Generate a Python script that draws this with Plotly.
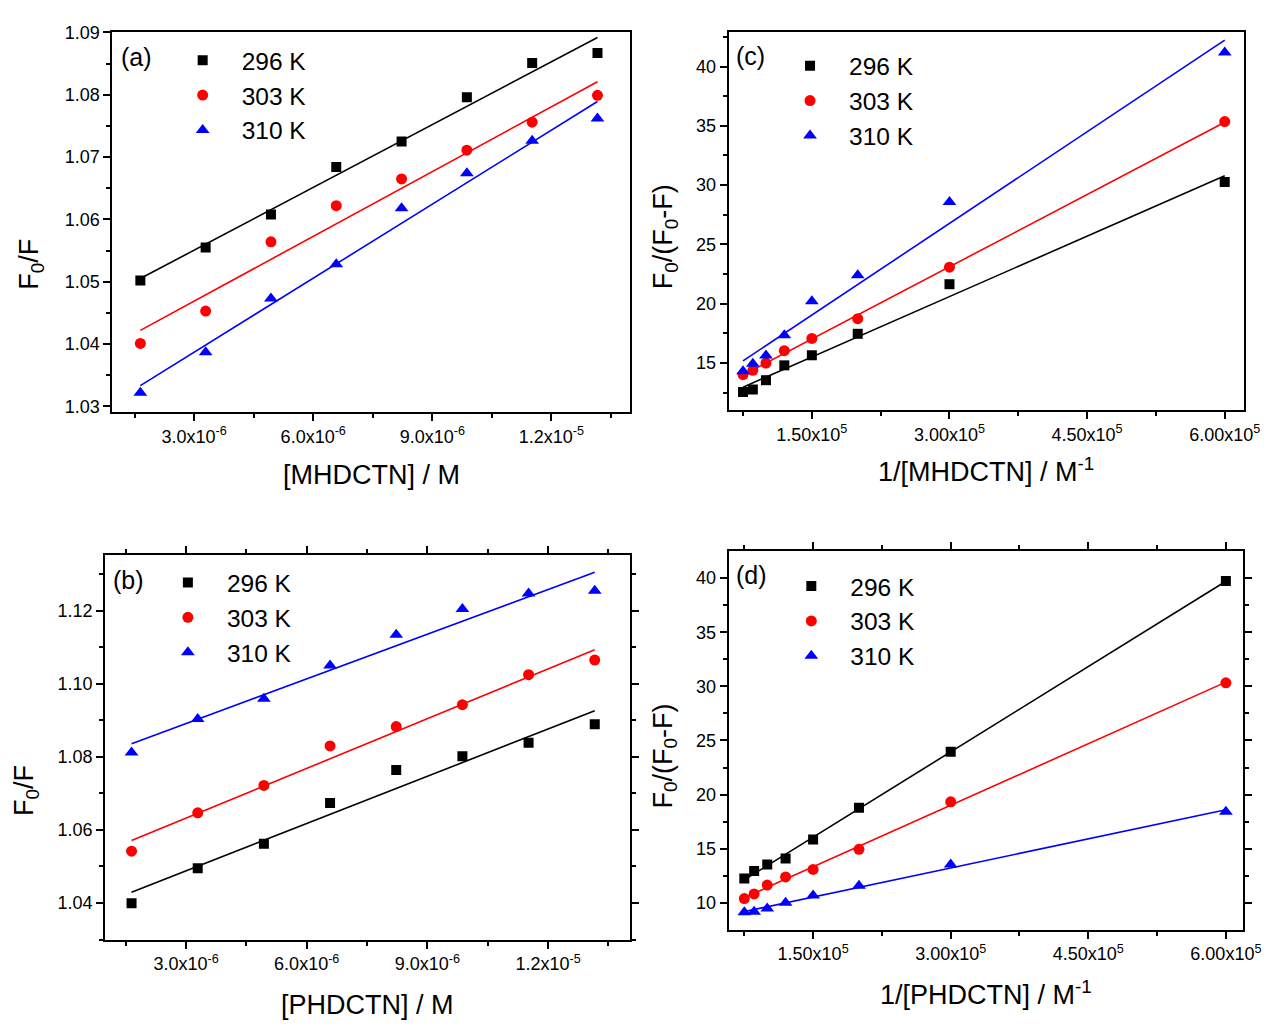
import numpy as np
import plotly.graph_objects as go

W, H = 1283, 1028

temps = ["296 K", "303 K", "310 K"]
colors = ["#000000", "#ff0000", "#0000ff"]
symbols = ["square", "circle", "triangle-up"]
msizes = [10, 11, 12]

# Panel (a): F0/F vs [MHDCTN]
conc_a = [1.645e-6, 3.29e-6, 4.935e-6, 6.58e-6, 8.225e-6, 9.87e-6, 11.515e-6, 13.16e-6]
a_296 = [1.0502, 1.0555, 1.0608, 1.0684, 1.0725, 1.0796, 1.0851, 1.0867]
a_303 = [1.0401, 1.0453, 1.0564, 1.0622, 1.0665, 1.0711, 1.0756, 1.0799]
a_310 = [1.0322, 1.0387, 1.0473, 1.0528, 1.0618, 1.0674, 1.0726, 1.0762]

# Panel (b): F0/F vs [PHDCTN]
conc_b = [1.645e-6, 3.29e-6, 4.935e-6, 6.58e-6, 8.225e-6, 9.87e-6, 11.515e-6, 13.16e-6]
b_296 = [1.0399, 1.0495, 1.0562, 1.0674, 1.0764, 1.0802, 1.0839, 1.0889]
b_303 = [1.0542, 1.0647, 1.0722, 1.0830, 1.0883, 1.0943, 1.1025, 1.1065]
b_310 = [1.0812, 1.0904, 1.0959, 1.1050, 1.1134, 1.1205, 1.1247, 1.1255]

# Panel (c): F0/(F0-F) vs 1/[MHDCTN]
inv_c = [0.75e5, 0.857e5, 1.0e5, 1.2e5, 1.5e5, 2.0e5, 3.0e5, 6.0e5]
c_296 = [12.56, 12.78, 13.56, 14.81, 15.66, 17.47, 21.65, 30.26]
c_303 = [14.03, 14.39, 15.00, 16.05, 17.08, 18.74, 23.09, 35.36]
c_310 = [14.31, 14.94, 15.64, 17.35, 20.21, 22.40, 28.57, 41.18]

# Panel (d): F0/(F0-F) vs 1/[PHDCTN]
inv_d = [0.75e5, 0.857e5, 1.0e5, 1.2e5, 1.5e5, 2.0e5, 3.0e5, 6.0e5]
d_296 = [12.24, 12.94, 13.55, 14.09, 15.85, 18.79, 23.97, 39.73]
d_303 = [10.39, 10.82, 11.64, 12.39, 13.09, 14.94, 19.33, 30.33]
d_310 = [9.12, 9.18, 9.48, 10.00, 10.67, 11.58, 13.55, 18.42]

conc_ticks = [3e-6, 6e-6, 9e-6, 1.2e-5]
conc_ticktext = ["3.0x10<sup>-6</sup>", "6.0x10<sup>-6</sup>", "9.0x10<sup>-6</sup>", "1.2x10<sup>-5</sup>"]
inv_ticks = [1.5e5, 3.0e5, 4.5e5, 6.0e5]
inv_ticktext = ["1.50x10<sup>5</sup>", "3.00x10<sup>5</sup>", "4.50x10<sup>5</sup>", "6.00x10<sup>5</sup>"]

FONT = "Liberation Sans, Arial, sans-serif"

def px(x):
    return x / W

def py(y):
    return 1 - y / H

panels = [
    dict(ax="", x=conc_a, ys=[a_296, a_303, a_310], frame=(114, 639, 22.7, 408),
         xr=[0.941e-6, 13.98e-6], yr=[1.0291, 1.09], xt=conc_ticks, xtt=conc_ticktext, xminor=1.5e-6,
         y0=1.03, ydt=0.01, yminor=0.005, yfmt=".2f", mirror=True, legend="legend"),
    dict(ax="2", x=inv_c, ys=[c_296, c_303, c_310], frame=(739, 1261.7, 22.7, 406),
         xr=[0.593e5, 6.21e5], yr=[11.04, 42.88], xt=inv_ticks, xtt=inv_ticktext, xminor=0.75e5,
         y0=15, ydt=5, yminor=2.5, yfmt="d", mirror=True, legend="legend2"),
    dict(ax="3", x=conc_b, ys=[b_296, b_303, b_310], frame=(106.7, 638.7, 553.3, 943.3),
         xr=[0.99e-6, 14.03e-6], yr=[1.030, 1.1352], xt=conc_ticks, xtt=conc_ticktext, xminor=1.5e-6,
         y0=1.04, ydt=0.02, yminor=0.01, yfmt=".2f", mirror="allticks", legend="legend3"),
    dict(ax="4", x=inv_d, ys=[d_296, d_303, d_310], frame=(739, 1261, 549.3, 933.3),
         xr=[0.579e5, 6.19e5], yr=[7.52, 42.48], xt=inv_ticks, xtt=inv_ticktext, xminor=0.75e5,
         y0=10, ydt=5, yminor=2.5, yfmt="d", mirror="allticks", legend="legend4"),
]

fig = go.Figure()
layout = dict(
    width=W, height=H, autosize=False,
    margin=dict(l=0, r=0, t=0, b=0),
    paper_bgcolor="white", plot_bgcolor="white",
    font=dict(family=FONT, color="black", size=18),
    showlegend=True,
)

for p in panels:
    xa = "x" + p["ax"]
    ya = "y" + p["ax"]
    xs = np.array(p["x"], dtype=float)
    for i, ys in enumerate(p["ys"]):
        ys = np.array(ys, dtype=float)
        fig.add_trace(go.Scatter(
            x=xs, y=ys, mode="markers", name=temps[i],
            marker=dict(symbol=symbols[i], color=colors[i], size=msizes[i], line=dict(width=0)),
            xaxis=xa, yaxis=ya, legend=p["legend"], showlegend=True,
        ))
        k, b = np.polyfit(xs, ys, 1)
        xf = np.array([xs.min(), xs.max()])
        fig.add_trace(go.Scatter(
            x=xf, y=k * xf + b, mode="lines",
            line=dict(color=colors[i], width=1.6),
            xaxis=xa, yaxis=ya, showlegend=False, hoverinfo="skip",
        ))
    l, r, t, bt = p["frame"]
    common = dict(
        showgrid=False, zeroline=False, showline=True, linecolor="black", linewidth=2,
        ticks="outside", ticklen=7, tickwidth=1.5, tickcolor="black", mirror=p["mirror"],
        tickfont=dict(family=FONT, size=18, color="black"),
    )
    layout["xaxis" + p["ax"]] = dict(
        domain=[px(l), px(r)], range=p["xr"], anchor=ya,
        tickmode="array", tickvals=p["xt"], ticktext=p["xtt"],
        minor=dict(ticks="outside", ticklen=4, tickwidth=1.5, tickcolor="black",
                   tick0=0, dtick=p["xminor"], showgrid=False),
        **common,
    )
    layout["yaxis" + p["ax"]] = dict(
        domain=[py(bt), py(t)], range=p["yr"], anchor=xa,
        tickmode="linear", tick0=p["y0"], dtick=p["ydt"], tickformat=p["yfmt"],
        minor=dict(ticks="outside", ticklen=4, tickwidth=1.5, tickcolor="black",
                   tick0=p["y0"], dtick=p["yminor"], showgrid=False),
        **common,
    )

# legends: (marker centre x, first-row centre y) in pixels
leg_pos = {"legend": (205, 51.7), "legend2": (821, 57.3), "legend3": (190, 581.7), "legend4": (822.3, 585.3)}
for name, (mx, my) in leg_pos.items():
    layout[name] = dict(
        x=px(mx - 39), y=py(my - 23.5), xanchor="left", yanchor="top",
        bgcolor="rgba(0,0,0,0)", borderwidth=0, itemwidth=68,
        font=dict(family=FONT, size=24.5, color="black"),
        tracegroupgap=0,
    )

annotations = []
for txt, (x0, y0) in {"(a)": (138, 48), "(c)": (761, 46.7), "(b)": (130, 578), "(d)": (762, 573)}.items():
    annotations.append(dict(text=txt, x=px(x0), y=py(y0), xref="paper", yref="paper",
                            showarrow=False, xanchor="center", yanchor="middle",
                            font=dict(family=FONT, size=25, color="black")))
xtitles = [("[MHDCTN] / M", 377, 471.7), ("1/[MHDCTN] / M<sup>-1</sup>", 1000, 467),
           ("[PHDCTN] / M", 373, 1010), ("1/[PHDCTN] / M<sup>-1</sup>", 1000, 998)]
for txt, x0, y0 in xtitles:
    annotations.append(dict(text=txt, x=px(x0), y=py(y0), xref="paper", yref="paper",
                            showarrow=False, xanchor="center", yanchor="middle",
                            font=dict(family=FONT, size=27, color="black")))
ytitles = [("F<sub>0</sub>/F", 32, 258), ("F<sub>0</sub>/(F<sub>0</sub>-F)", 674, 230),
           ("F<sub>0</sub>/F", 27, 792), ("F<sub>0</sub>/(F<sub>0</sub>-F)", 674, 757)]
for txt, x0, y0 in ytitles:
    annotations.append(dict(text=txt, x=px(x0), y=py(y0), xref="paper", yref="paper",
                            showarrow=False, xanchor="center", yanchor="middle", textangle=-90,
                            font=dict(family=FONT, size=27, color="black")))
layout["annotations"] = annotations

fig.update_layout(**layout)
fig.write_html("out.html", config={"displayModeBar": False, "responsive": False},
               post_script="document.body.style.margin='0px';document.body.style.overflow='hidden';")
